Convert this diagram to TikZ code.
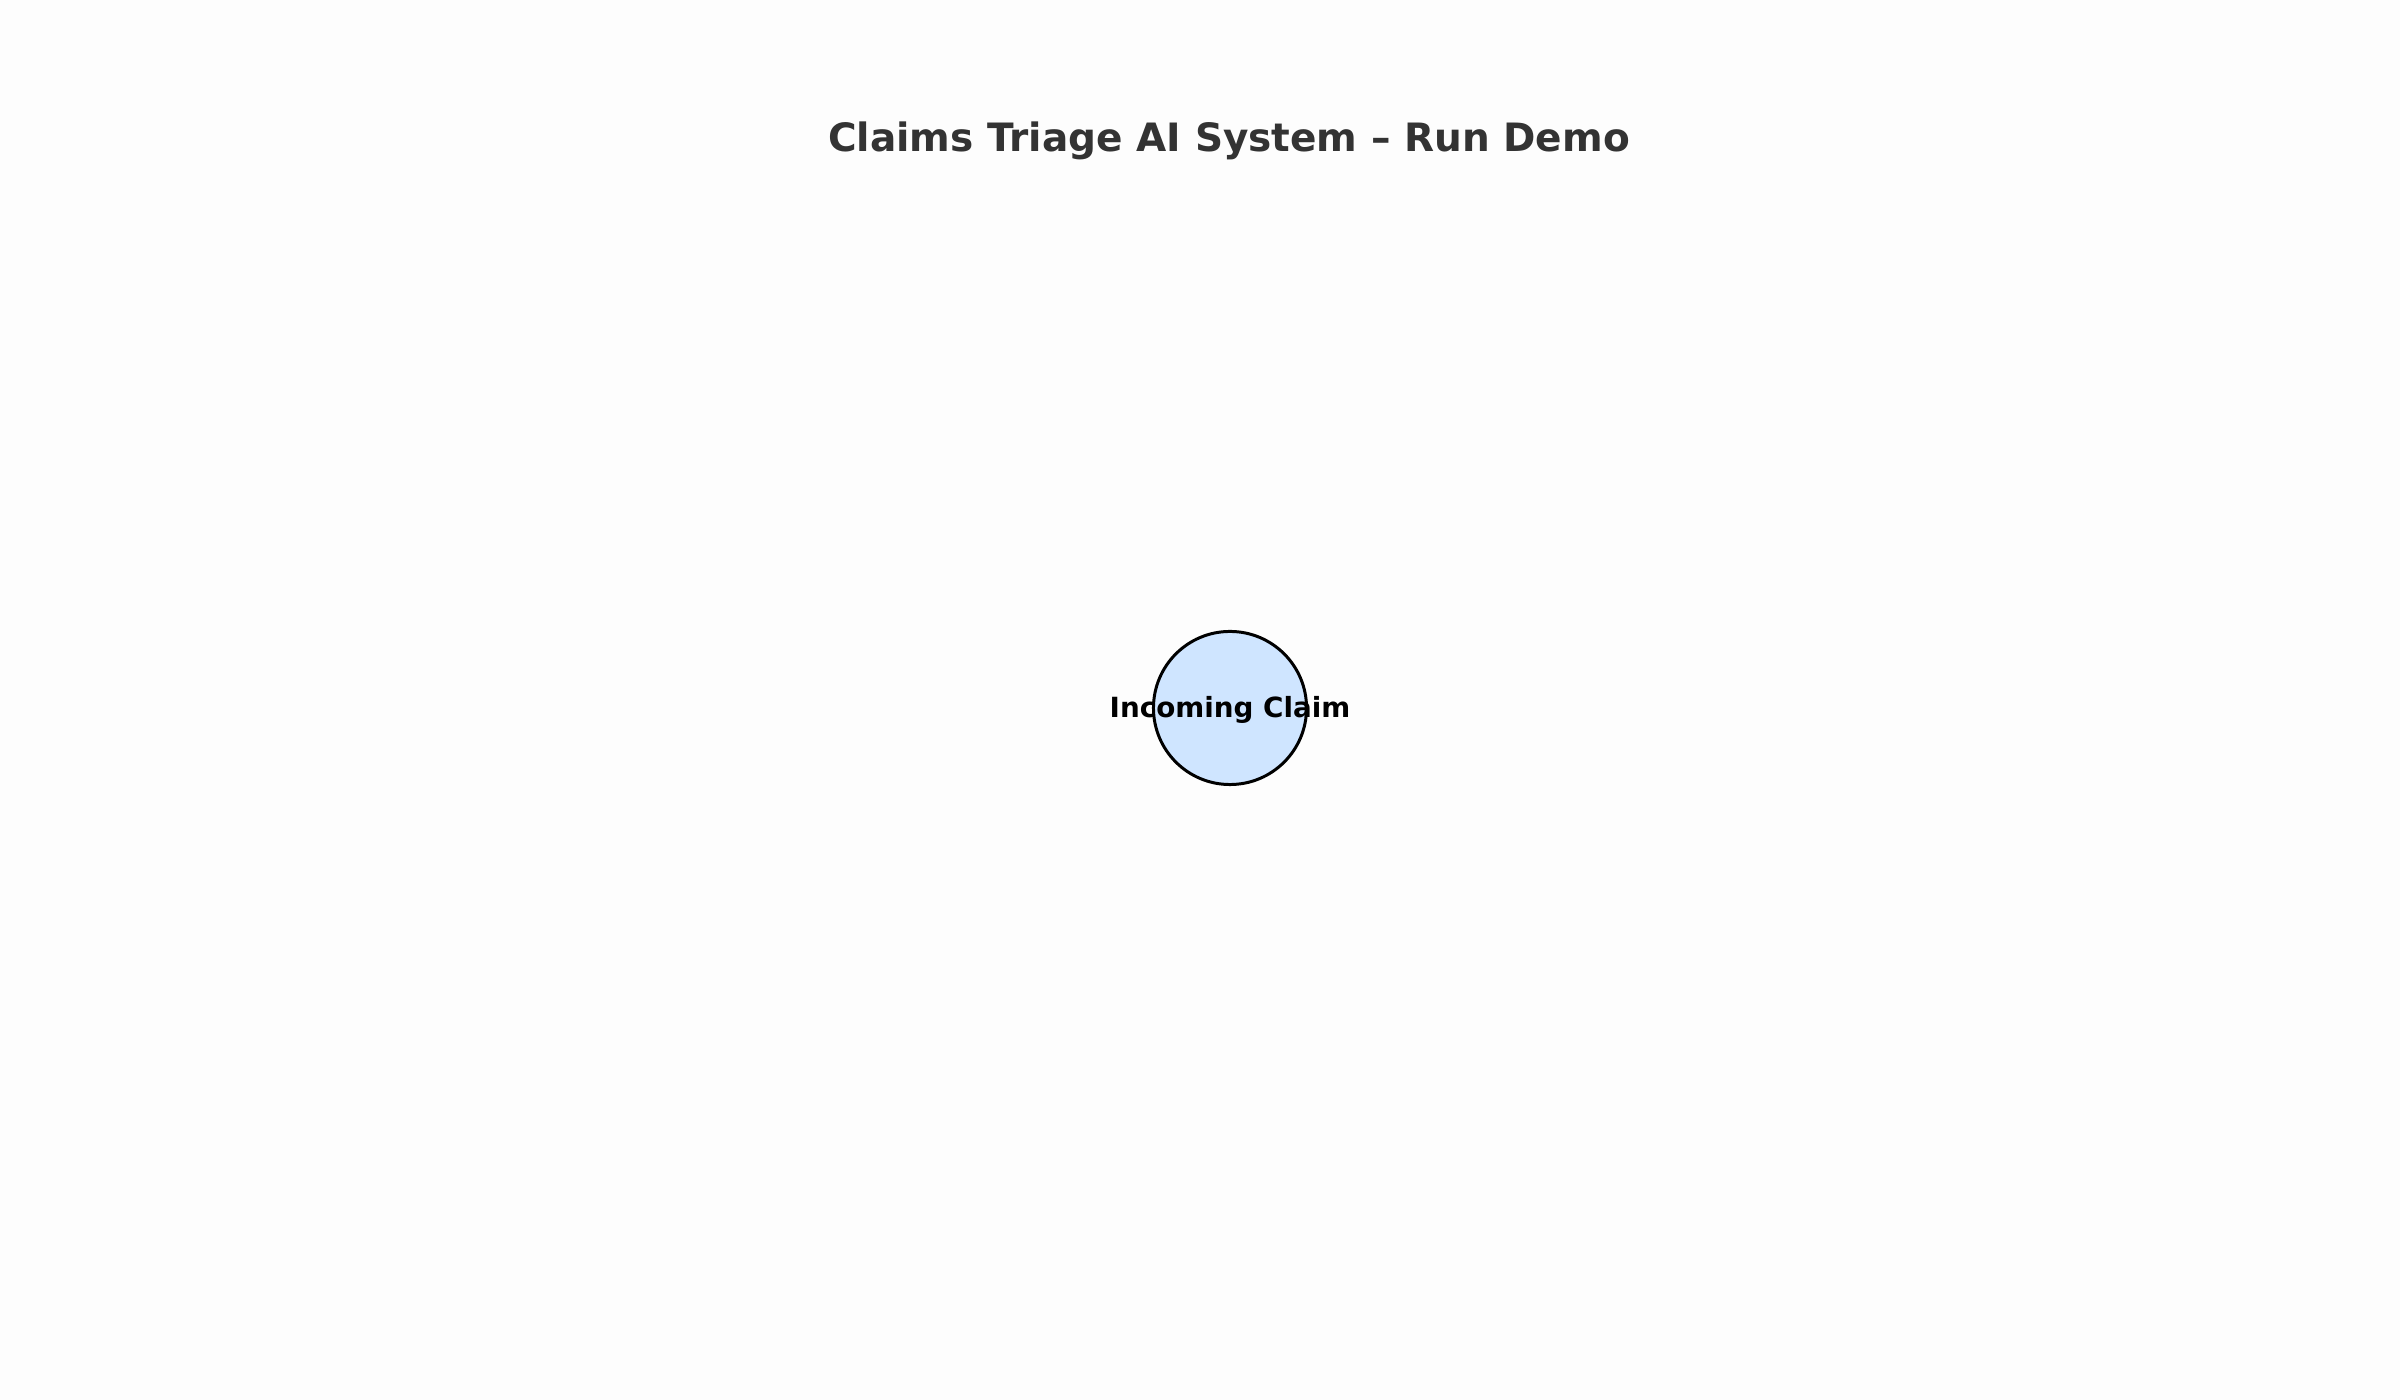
\documentclass[tikz,border=0pt]{standalone}
\usepackage{fontspec}
\setmainfont{DejaVu Sans}
\definecolor{bgc}{HTML}{FDFDFD}
\definecolor{titlec}{HTML}{333333}
\definecolor{nodefill}{HTML}{CFE5FF}
\begin{document}
\begin{tikzpicture}[x=0.01cm,y=0.01cm,
  claimnode/.style={circle,draw=black,line width=0.85pt,fill=nodefill,minimum size=1.53cm,inner sep=0pt},
  titletext/.style={font=\fontsize{11.1}{13}\selectfont\bfseries,text=titlec},
  nodetext/.style={font=\fontsize{7.9}{9.5}\selectfont\bfseries,text=black}]
\fill[bgc] (0,0) rectangle (2400,1400);
\useasboundingbox (0,0) rectangle (2400,1400);
\node[titletext] (title) at (1229,1259) {Claims Triage AI System – Run Demo};
\node[claimnode] (claim) at (1230,692) {};
\node[nodetext] (claimlabel) at (1230,690) {Incoming Claim};
\end{tikzpicture}
\end{document}
